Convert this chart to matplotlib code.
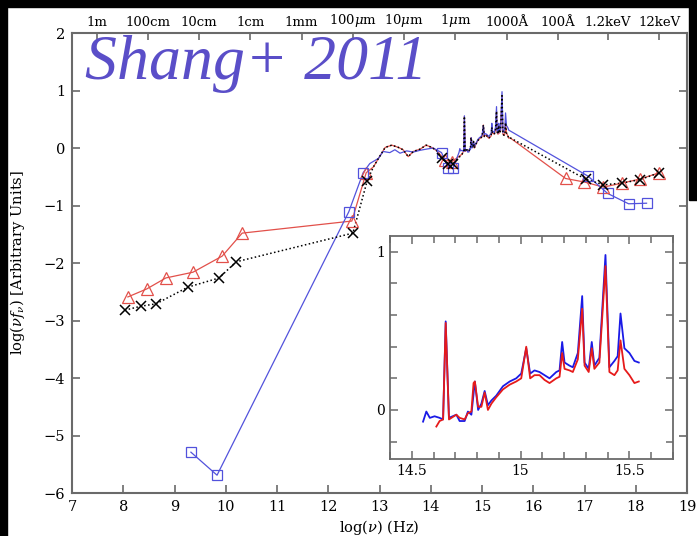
import matplotlib.pyplot as plt
from matplotlib.patches import Rectangle
from matplotlib.ticker import MultipleLocator

# radio / far-IR photometry (log nu [Hz], log nu f_nu)
red_lo_x = [8.09, 8.46, 8.83, 9.36, 9.93, 10.32, 12.46, 12.74]
red_lo_y = [-2.59, -2.45, -2.26, -2.16, -1.88, -1.48, -1.27, -0.43]
blk_lo_x = [8.03, 8.35, 8.64, 9.26, 9.87, 10.20, 12.48, 12.76]
blk_lo_y = [-2.82, -2.75, -2.71, -2.42, -2.26, -1.98, -1.48, -0.57]
blu_lo_x = [9.32, 9.83, 12.40, 12.68]
blu_lo_y = [-5.29, -5.69, -1.11, -0.43]

# mid-IR spectra
ir_x = [12.88, 12.98, 13.11, 13.24, 13.37, 13.46, 13.56, 13.66, 13.79, 13.91, 14.02, 14.12]
ir_red = [-0.33, -0.18, 0.01, 0.05, 0.01, -0.03, -0.15, -0.06, -0.02, 0.05, 0.01, -0.05]
ir_blu_x = [12.81, 12.98, 13.07, 13.20, 13.30, 13.40, 13.53, 13.66, 13.79, 13.91, 14.05]
ir_blu = [-0.27, -0.18, -0.06, -0.08, -0.03, -0.09, -0.05, -0.07, -0.04, -0.02, 0.0]

# near-IR photometry
red_nir_x = [14.28, 14.41]
red_nir_y = [-0.21, -0.24]
blk_nir_x = [14.21, 14.34, 14.44]
blk_nir_y = [-0.18, -0.27, -0.27]
blu_nir_x = [14.21, 14.34, 14.44]
blu_nir_y = [-0.08, -0.34, -0.34]

# optical / UV spectra
blu_spec_x = [14.552, 14.567, 14.583, 14.605, 14.628, 14.644, 14.656, 14.671, 14.705, 14.72,
              14.743, 14.758, 14.774, 14.79, 14.805, 14.82, 14.835, 14.85, 14.866, 14.888,
              14.919, 14.95, 14.98, 15.003, 15.026, 15.044, 15.064, 15.087, 15.11, 15.133,
              15.164, 15.179, 15.191, 15.202, 15.225, 15.24, 15.263, 15.283, 15.294, 15.313,
              15.327, 15.339, 15.362, 15.39, 15.408, 15.431, 15.446, 15.459, 15.477, 15.50,
              15.523, 15.543]
blu_spec_y = [-0.074, -0.01, -0.05, -0.04, -0.05, -0.06, 0.56, -0.05, -0.03, -0.07,
              -0.07, -0.01, -0.03, 0.18, 0.0, 0.04, 0.12, 0.03, 0.06, 0.09,
              0.15, 0.18, 0.20, 0.23, 0.39, 0.23, 0.25, 0.24, 0.22, 0.20,
              0.24, 0.25, 0.43, 0.30, 0.28, 0.27, 0.36, 0.72, 0.30, 0.26,
              0.43, 0.28, 0.33, 0.98, 0.27, 0.31, 0.34, 0.61, 0.39, 0.36,
              0.31, 0.30]
red_spec_x = [14.613, 14.628, 14.644, 14.656, 14.671, 14.705, 14.72, 14.743, 14.758, 14.774,
              14.784, 14.79, 14.805, 14.82, 14.835, 14.85, 14.866, 14.888, 14.919, 14.95,
              14.98, 15.003, 15.026, 15.044, 15.064, 15.087, 15.11, 15.133, 15.164, 15.179,
              15.191, 15.202, 15.225, 15.24, 15.263, 15.283, 15.294, 15.313, 15.327, 15.339,
              15.362, 15.39, 15.408, 15.431, 15.446, 15.459, 15.477, 15.50, 15.523, 15.543]
red_spec_y = [-0.105, -0.07, -0.06, 0.55, -0.06, -0.03, -0.05, -0.06, -0.02, -0.01,
              0.17, 0.18, 0.02, 0.02, 0.11, 0.0, 0.04, 0.08, 0.13, 0.16,
              0.18, 0.20, 0.40, 0.20, 0.22, 0.22, 0.19, 0.17, 0.20, 0.21,
              0.36, 0.26, 0.25, 0.24, 0.32, 0.64, 0.28, 0.24, 0.39, 0.26,
              0.30, 0.91, 0.24, 0.22, 0.25, 0.44, 0.26, 0.22, 0.17, 0.18]

# X-ray photometry
red_xr_x = [16.63, 16.99, 17.37, 17.73, 18.08, 18.46]
red_xr_y = [-0.53, -0.59, -0.68, -0.61, -0.54, -0.43]
blk_xr_x = [17.02, 17.37, 17.73, 18.08, 18.46]
blk_xr_y = [-0.54, -0.64, -0.61, -0.55, -0.43]
blu_xr_x = [17.07, 17.45, 17.86, 18.21]
blu_xr_y = [-0.49, -0.79, -0.97, -0.96]

top_ticks = [7.48, 8.48, 9.48, 10.48, 11.48, 12.48, 13.48, 14.48, 15.48, 16.48, 17.46, 18.46]
top_labels = ["1m", "100cm", "10cm", "1cm", "1mm", r"100$\mu$m", r"10$\mu$m", r"1$\mu$m",
              "1000Å", "100Å", "1.2keV", "12keV"]

RED = "#e2504a"
BLUE = "#5252dc"
SPINE = "#6a6a6a"
plt.rcParams["font.family"] = "DejaVu Serif"
plt.rcParams["mathtext.fontset"] = "dejavuserif"

fig = plt.figure(figsize=(6.97, 5.36), dpi=100)
ax = fig.add_axes([0.1033, 0.0802, 0.8824, 0.8582])

red_x = red_lo_x + ir_x + red_nir_x + red_spec_x + red_xr_x
red_y = red_lo_y + ir_red + red_nir_y + red_spec_y + red_xr_y
blk_x = blk_lo_x + ir_x + blk_nir_x + red_spec_x + blk_xr_x
blk_y = blk_lo_y + ir_red + blk_nir_y + red_spec_y + blk_xr_y
blu_x = blu_lo_x + ir_blu_x + blu_nir_x + blu_spec_x + blu_xr_x
blu_y = blu_lo_y + ir_blu + blu_nir_y + blu_spec_y + blu_xr_y

ax.plot(red_x, red_y, color=RED, lw=0.9)
ax.plot(blu_x, blu_y, color=BLUE, lw=0.9)
ax.plot(blk_x, blk_y, color="black", lw=1.1, ls=(0, (1, 1.6)))

ax.plot(red_lo_x + red_nir_x + red_xr_x, red_lo_y + red_nir_y + red_xr_y, ls="none",
        marker="^", ms=8, mfc="none", mec=RED, mew=0.9)
ax.plot(blu_lo_x + blu_nir_x + blu_xr_x, blu_lo_y + blu_nir_y + blu_xr_y, ls="none",
        marker="s", ms=7.5, mfc="none", mec=BLUE, mew=0.9)
ax.plot(blk_lo_x + blk_nir_x + blk_xr_x, blk_lo_y + blk_nir_y + blk_xr_y, ls="none",
        marker="x", ms=6.5, mec="black", mew=1.1)

ax.set_xlim(7, 19)
ax.set_ylim(-6, 2)
ax.set_xticks(range(7, 20))
ax.set_yticks(range(-6, 3))
ax.tick_params(direction="in", length=6, width=1.2, color=SPINE, labelsize=10.5,
               right=True, pad=5)
for s in ax.spines.values():
    s.set_color(SPINE)
    s.set_linewidth(1.5)
ax.set_xlabel(r"log($\nu$) (Hz)", fontsize=10.5, labelpad=3)
ax.set_ylabel(r"log($\nu f_\nu$) [Arbitrary Units]", fontsize=10.5, labelpad=12)

top = ax.twiny()
top.set_xlim(7, 19)
top.set_xticks(top_ticks)
top.set_xticklabels(top_labels)
top.tick_params(direction="in", length=5, width=1.2, color=SPINE, labelsize=9.5, pad=3)
for s in top.spines.values():
    s.set_visible(False)

# zoom on the optical/UV spectra
ins = fig.add_axes([0.5595, 0.1437, 0.406, 0.416])
ins.plot(blu_spec_x, blu_spec_y, color="#1a1ae6", lw=1.3)
ins.plot(red_spec_x, red_spec_y, color="#e61a1a", lw=1.3)
ins.set_xlim(14.40, 15.70)
ins.set_ylim(-0.31, 1.10)
ins.set_xticks([14.5, 15, 15.5])
ins.set_xticklabels(["14.5", "15", "15.5"])
ins.set_yticks([0, 1])
ins.xaxis.set_minor_locator(MultipleLocator(0.1))
ins.yaxis.set_minor_locator(MultipleLocator(0.2))
ins.tick_params(which="both", direction="in", top=True, right=True, color=SPINE, width=1.1,
                labelsize=10)
ins.tick_params(which="major", length=6)
ins.tick_params(which="minor", length=5)
for s in ins.spines.values():
    s.set_color(SPINE)
    s.set_linewidth(1.3)

fig.text(0.122, 0.853, "Shang+ 2011", fontsize=46, style="italic",
         family="Liberation Serif", color="#5a4ec8", va="baseline")

# dark frame around the scan
for r in [(0, 0, 7 / 697, 1), (0, 1 - 7 / 536, 1, 7 / 536),
          (689 / 697, 1 - 200 / 536, 8 / 697, 200 / 536)]:
    fig.add_artist(Rectangle(r[:2], r[2], r[3], transform=fig.transFigure,
                             color="black", zorder=10))

fig.savefig("out.png", dpi=100)
